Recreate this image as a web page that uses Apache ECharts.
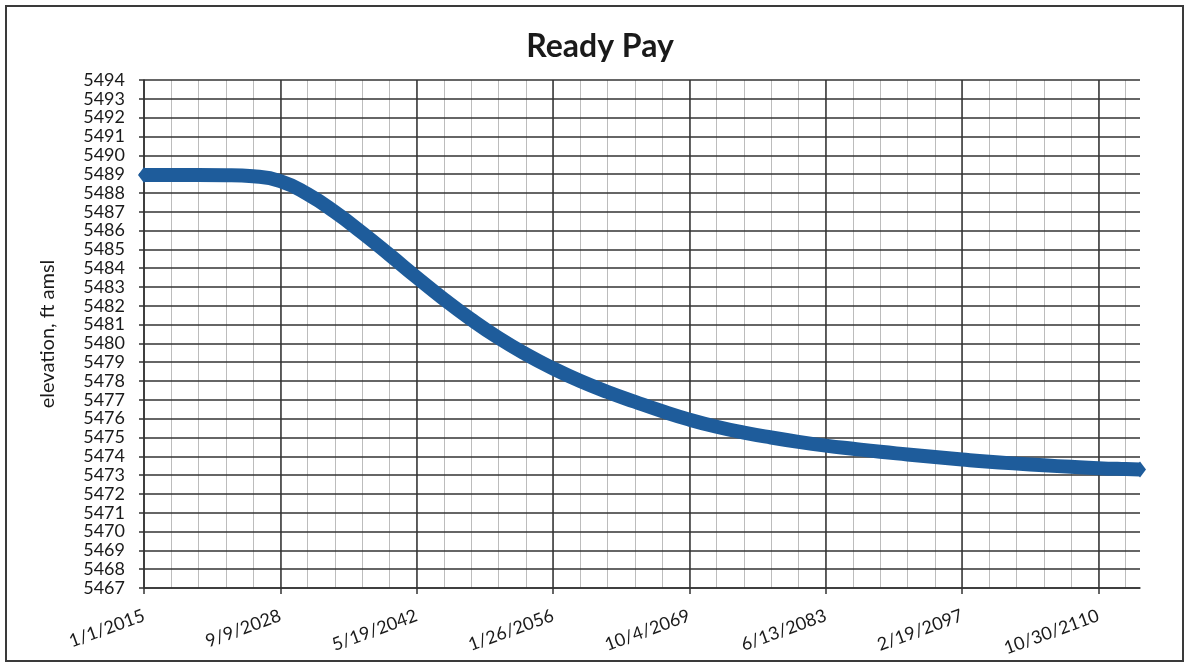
<!DOCTYPE html>
<html>
<head>
<meta charset="utf-8">
<title>Ready Pay</title>
<script src="https://cdn.jsdelivr.net/npm/echarts@6/dist/echarts.min.js"></script>
<style>
  html, body { margin: 0; padding: 0; background: #ffffff; }
  #chart { width: 1188px; height: 664px; }
</style>
</head>
<body>
<div id="chart"></div>
<script>
// Elevation forecast, days counted from 1/1/2015
const xDays = [
  0, 1000, 2000, 3000, 4000, 5000, 6000, 7000, 8000, 9000,
  10000, 11000, 12000, 13000, 14000, 15000, 16000, 17000, 18000, 19000,
  20000, 21000, 22000, 23000, 24000, 25000, 26000, 27000, 28000, 29000,
  30000, 31000, 32000, 33000, 34000, 35000, 36000, 36525
];
const elevation = [
  5488.95, 5488.95, 5488.95, 5488.94, 5488.88, 5488.63, 5487.93, 5486.98, 5485.88, 5484.71,
  5483.51, 5482.35, 5481.27, 5480.29, 5479.43, 5478.67, 5478.00, 5477.42, 5476.90, 5476.40,
  5475.95, 5475.57, 5475.26, 5475.00, 5474.77, 5474.57, 5474.40, 5474.24, 5474.10, 5473.96,
  5473.83, 5473.71, 5473.61, 5473.52, 5473.44, 5473.37, 5473.32, 5473.30
];

// Date labels for the 5000-day major ticks
const xTickLabels = [
  '1/1/2015', '9/9/2028', '5/19/2042', '1/26/2056',
  '10/4/2069', '6/13/2083', '2/19/2097', '10/30/2110'
];

const yMin = 5467;
const yMax = 5494;
const xMax = 36525;

const chart = echarts.init(document.getElementById('chart'), null, { renderer: 'canvas' });

const lastIdx = xDays.length - 1;
const lineData = xDays.map((d, i) => ({
  value: [d, elevation[i]],
  symbol: (i === 0 || i === lastIdx) ? 'diamond' : 'none'
}));

const font = 'Lato, "Open Sans", "Liberation Sans", sans-serif';

chart.setOption({
  animation: false,
  backgroundColor: '#ffffff',
  graphic: [
    {
      type: 'rect',
      shape: { x: 6, y: 6, width: 1177, height: 655 },
      style: { fill: 'none', stroke: '#3a3a3a', lineWidth: 2 },
      silent: true
    },
    {
      type: 'text',
      style: {
        x: 600, y: 47,
        text: 'Ready Pay',
        textAlign: 'center',
        textVerticalAlign: 'middle',
        fill: '#1a1a1a',
        font: 'bold 32px ' + font
      },
      silent: true
    }
  ],
  grid: { left: 144, top: 80, width: 996, height: 508, containLabel: false },
  xAxis: [
    {
      type: 'value',
      min: 0,
      max: xMax,
      interval: 5000,
      axisLine: { show: true, onZero: false, lineStyle: { color: '#333', width: 1.5 } },
      axisTick: { show: true, inside: false, length: 6, lineStyle: { color: '#333', width: 1.5 } },
      axisLabel: {
        rotate: 20,
        margin: 27,
        fontSize: 18,
        fontFamily: font,
        color: '#1a1a1a',
        showMaxLabel: false,
        formatter: v => (v % 5000 === 0 ? (xTickLabels[v / 5000] || '') : '')
      },
      splitLine: { show: true, showMinLine: true, showMaxLine: false, lineStyle: { color: '#333', width: 1.5 } },
      z: 3
    },
    {
      // light 1000-day grid between the dated lines
      type: 'value',
      min: 0,
      max: xMax,
      interval: 1000,
      position: 'bottom',
      axisLine: { show: false },
      axisTick: { show: false },
      axisLabel: { show: false },
      splitLine: { show: true, showMinLine: false, showMaxLine: false, lineStyle: { color: '#bcbcbc', width: 1 } },
      z: 1
    }
  ],
  yAxis: {
    type: 'value',
    min: yMin,
    max: yMax,
    interval: 1,
    name: 'elevation, ft amsl',
    nameLocation: 'middle',
    nameGap: 86,
    nameTextStyle: { fontSize: 20, fontFamily: font, color: '#1a1a1a' },
    axisLine: { show: true, lineStyle: { color: '#333', width: 1.5 } },
    axisTick: { show: true, inside: false, length: 5, lineStyle: { color: '#333', width: 1.5 } },
    axisLabel: {
      margin: 19,
      fontSize: 18,
      fontFamily: font,
      color: '#1a1a1a',
      formatter: v => String(v)
    },
    splitLine: { show: true, lineStyle: { color: '#333', width: 1.5 } },
    z: 3
  },
  series: [
    {
      type: 'line',
      xAxisIndex: 0,
      data: lineData,
      smooth: 0.5,
      symbolSize: [12, 16],
      showSymbol: true,
      itemStyle: { color: '#1e5c9b' },
      lineStyle: { color: '#1e5c9b', width: 14, join: 'round' },
      z: 5
    }
  ]
});
</script>
</body>
</html>
